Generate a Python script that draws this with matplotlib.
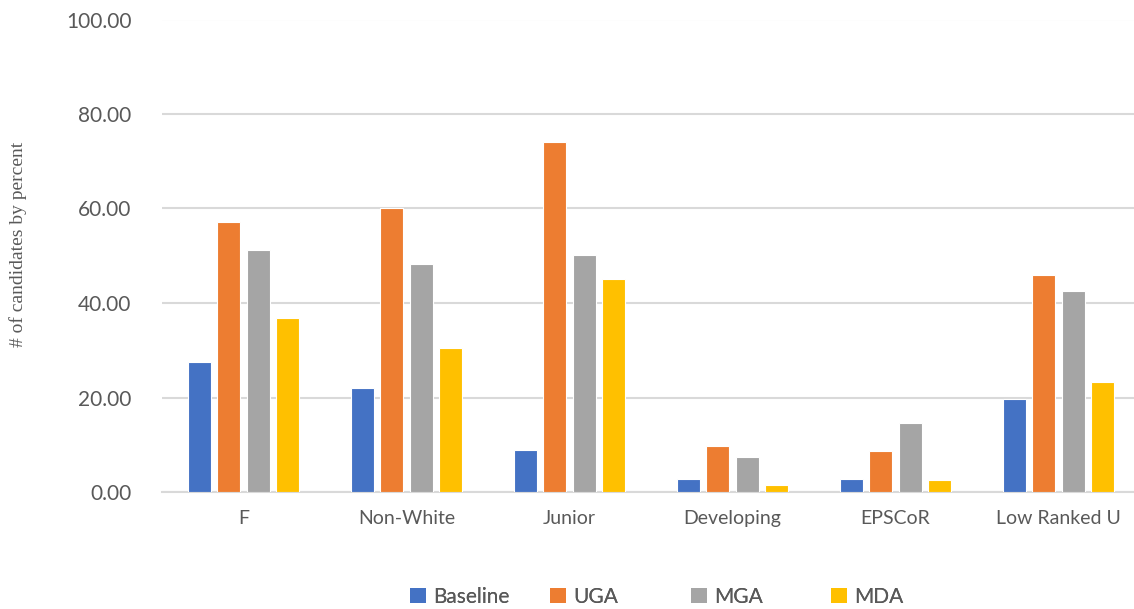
import numpy as np
import matplotlib
matplotlib.use("Agg")
import matplotlib.pyplot as plt
from matplotlib.patches import Patch

# categories and series (% of candidates)
categories = ["F", "Non-White", "Junior", "Developing", "EPSCoR", "Low Ranked U"]
baseline = [27.6, 22.1, 8.9, 2.8, 2.7, 19.6]
uga = [57.2, 60.1, 74.1, 9.7, 8.7, 45.9]
mga = [51.2, 48.3, 50.1, 7.4, 14.7, 42.6]
mda = [36.9, 30.4, 45.0, 1.4, 2.5, 23.3]
series_names = ["Baseline", "UGA", "MGA", "MDA"]
colors = ["#4472C4", "#ED7D31", "#A5A5A5", "#FFC000"]

plt.rcParams['font.family'] = ['Lato', 'DejaVu Sans']

fig = plt.figure(figsize=(11.34, 6.09), dpi=100)
ax = fig.add_axes([162/1134, 117/609, 972/1134, 472.5/609])

x = np.arange(len(categories))
pitch = 0.18
width = 0.142
for i, (vals, name, col) in enumerate(zip([baseline, uga, mga, mda], series_names, colors)):
    ax.bar(x + (i - 1.5)*pitch, vals, width, color=col, label=name,
           edgecolor="white", linewidth=0.8, zorder=3)

ax.set_xlim(-0.5, -0.5 + 972/163)
ax.set_ylim(0, 100)
ax.set_yticks(np.arange(0, 101, 20))
ax.set_yticklabels(["%.2f" % v for v in np.arange(0, 101, 20)])
ax.set_xticks(x)
ax.set_xticklabels(categories)
ax.tick_params(axis="both", length=0, colors="#595959", labelsize=15)
ax.tick_params(axis="x", labelsize=14, pad=13)
ax.tick_params(axis="y", pad=22)

ax.grid(axis="y", color="#D9D9D9", linewidth=1.5, zorder=0)
for s in ["top", "right", "left"]:
    ax.spines[s].set_visible(False)
ax.spines["bottom"].set_color("#D9D9D9")
ax.spines["bottom"].set_linewidth(1.5)

fig.text(18/1134, 1 - 244/609, "# of candidates by percent", rotation=90,
         ha="center", va="center", family="Liberation Serif", fontsize=14, color="#595959")

# legend entries laid out in equal-width slots like the office chart legend
slot_left = [402, 542, 683, 823]
for name, col, left in zip(series_names, colors, slot_left):
    leg = fig.legend(handles=[Patch(facecolor=col, label=name)], loc="center left",
                     bbox_to_anchor=(left/1134, 1 - 597/609), frameon=False,
                     fontsize=15, handlelength=0.75, handleheight=0.75,
                     handletextpad=0.35, borderaxespad=0, labelcolor="#595959")
    fig.add_artist(leg)

fig.savefig("out.png", dpi=100)
